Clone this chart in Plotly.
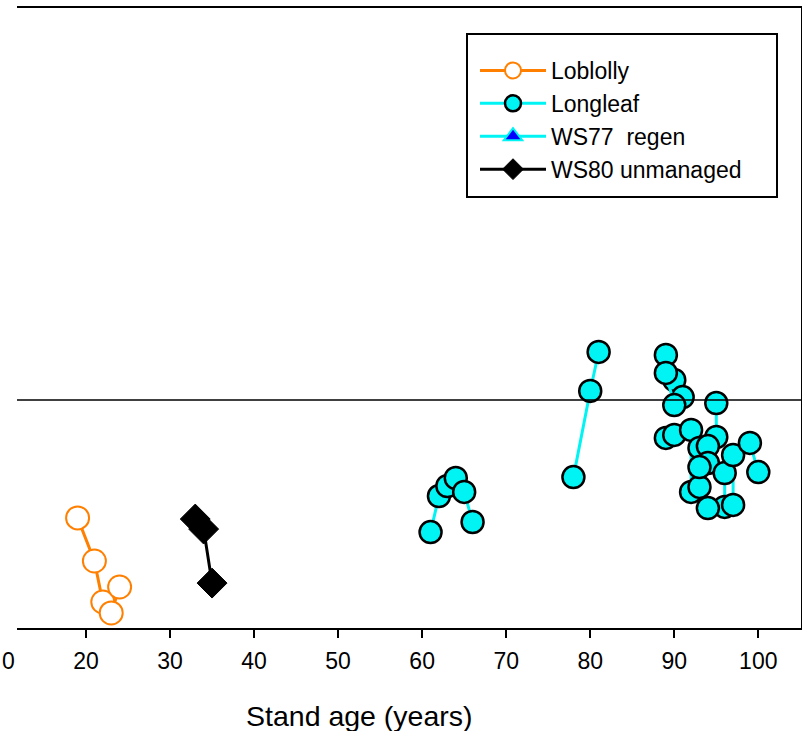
import plotly.graph_objects as go

# ---------------- data ----------------
lob_age = [19, 21, 22, 23, 24]
lob_val = [0.483, 0.294, 0.114, 0.066, 0.180]

ws80_age = [33, 34, 35]
ws80_val = [0.478, 0.434, 0.197]

# Longleaf sub-series (each connected by its own line)
ll_ages = [
    [61, 62, 63, 64, 65, 66],
    [78, 80, 81],
    [89, 90, 91],
    [89, 90],
    [89, 90, 92, 92, 93],
    [95, 95],
    [93, 94, 94, 93],
    [96, 96, 97, 97, 99, 100],
    [94],
]
ll_vals = [
    [0.421, 0.579, 0.623, 0.658, 0.597, 0.465],
    [0.662, 1.040, 1.211],
    [1.198, 1.088, 1.013],
    [1.119, 0.978],
    [0.834, 0.847, 0.869, 0.597, 0.619],
    [0.987, 0.838],
    [0.790, 0.798, 0.724, 0.706],
    [0.680, 0.531, 0.540, 0.759, 0.812, 0.684],
    [0.526],
]

# WS77 regen: legend entry only, no points visible in the chart
ws77_age = [None]
ws77_val = [None]

x_ticks = [20, 30, 40, 50, 60, 70, 80, 90, 100]
ref_level = 1.0

ORANGE = "#FF8000"
CYAN = "#00F4F4"
FONT = "Liberation Sans, Arial, sans-serif"

fig = go.Figure()

fig.add_trace(go.Scatter(
    x=lob_age, y=lob_val, mode="lines+markers", name="Loblolly",
    line=dict(color=ORANGE, width=3),
    marker=dict(symbol="circle", size=23, color="white",
                line=dict(color=ORANGE, width=2)),
    legendrank=1,
))

for i, (a, v) in enumerate(zip(ll_ages, ll_vals)):
    fig.add_trace(go.Scatter(
        x=a, y=v, mode="lines+markers", name="Longleaf",
        legendgroup="ll", showlegend=(i == 0),
        line=dict(color=CYAN, width=3),
        marker=dict(symbol="circle", size=22, color=CYAN,
                    line=dict(color="black", width=2.5)),
        legendrank=2,
    ))

fig.add_trace(go.Scatter(
    x=ws77_age, y=ws77_val, mode="lines+markers", name="WS77  regen",
    line=dict(color=CYAN, width=3),
    marker=dict(symbol="triangle-up", size=22, color="#0000FF",
                line=dict(color=CYAN, width=2)),
    legendrank=3,
))

fig.add_trace(go.Scatter(
    x=ws80_age, y=ws80_val, mode="lines+markers", name="WS80 unmanaged",
    line=dict(color="black", width=3),
    marker=dict(symbol="diamond", size=23, color="black",
                line=dict(color="black", width=1)),
    legendrank=4,
))

W, H = 802, 731
L, R, T, B = 17, 1, 8, 103
pw = W - L - R
ph = H - T - B

def px(xp):
    return (xp - L) / pw

def py(yp):
    return (H - B - yp) / ph

fig.update_layout(
    width=W, height=H,
    margin=dict(l=L, r=R, t=T, b=B),
    paper_bgcolor="white", plot_bgcolor="white",
    font=dict(family=FONT, color="black"),
    showlegend=True,
    legend=dict(
        x=px(475), y=py(49), xanchor="left", yanchor="top",
        bgcolor="rgba(0,0,0,0)", borderwidth=0,
        font=dict(size=23, family=FONT, color="black"),
        itemwidth=66, tracegroupgap=0,
    ),
    xaxis=dict(
        range=[11.79, 105.08], tickvals=x_ticks, ticks="outside",
        ticklen=8, tickwidth=2, tickcolor="black",
        showline=True, linecolor="black", linewidth=2, mirror=True,
        showgrid=False, zeroline=False, ticklabelstandoff=3,
        tickfont=dict(size=23, family=FONT, color="black"),
    ),
    yaxis=dict(
        range=[0, 2.72], side="right", showline=True, linecolor="black",
        linewidth=1.5, showticklabels=False, ticks="", showgrid=False,
        zeroline=False,
    ),
    shapes=[
        dict(type="line", xref="paper", x0=0, x1=1, yref="y",
             y0=ref_level, y1=ref_level, line=dict(color="black", width=1.5)),
        dict(type="rect", xref="paper", yref="paper",
             x0=px(467), x1=px(777), y0=py(197), y1=py(34),
             line=dict(color="black", width=2), fillcolor="rgba(0,0,0,0)"),
    ],
    annotations=[
        dict(text="Stand age (years)", xref="paper", yref="paper",
             x=px(359), y=py(716), xanchor="center", yanchor="middle",
             showarrow=False, font=dict(size=28.5, family=FONT, color="black")),
        dict(text="0", xref="paper", yref="paper",
             x=px(8), y=py(661), xanchor="center", yanchor="middle",
             showarrow=False, font=dict(size=23, family=FONT, color="black")),
    ],
)

fig.write_html("out.html")
